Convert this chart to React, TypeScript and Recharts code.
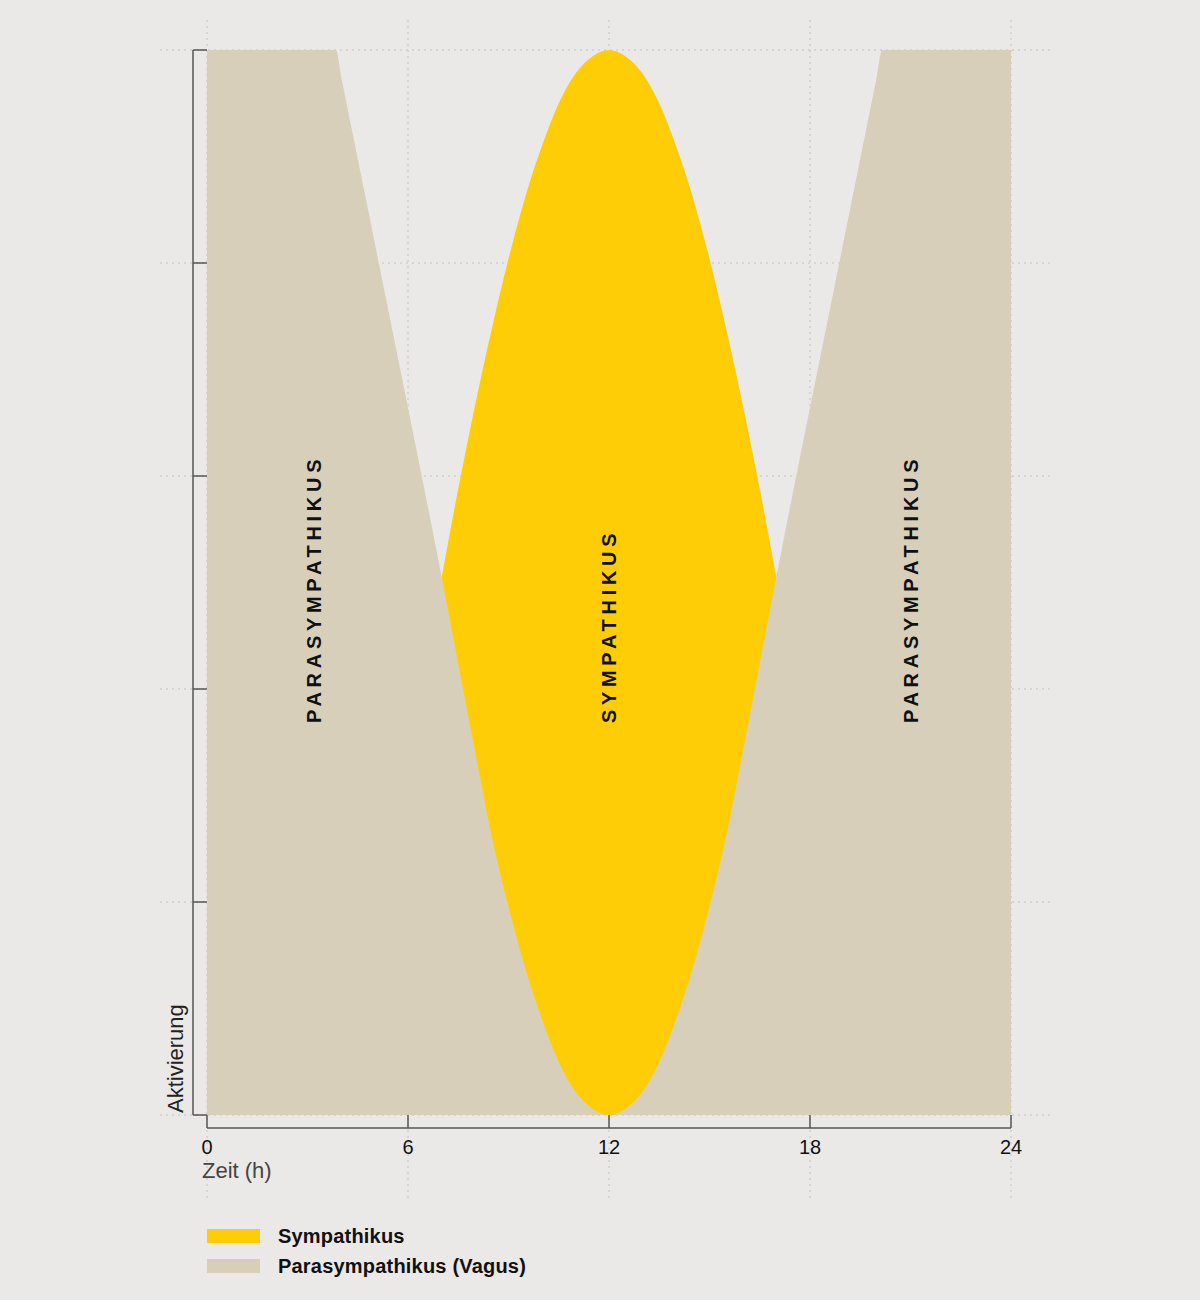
import React from 'react';
import { AreaChart, Area, XAxis, YAxis, CartesianGrid, ReferenceDot } from 'recharts';

const HOURS = [
  0, 0.5, 1, 1.5, 2, 2.5, 3, 3.5, 3.85, 4, 4.5, 5, 5.5, 6, 6.5, 7, 7.5, 8, 8.5, 9, 9.5, 10, 10.5, 11, 11.5,
  12, 12.5, 13, 13.5, 14, 14.5, 15, 15.5, 16, 16.5, 17, 17.5, 18, 18.5, 19, 19.5, 20, 20.15, 20.5, 21, 21.5,
  22, 22.5, 23, 23.5, 24,
];

const SYMPATHIKUS = [
  0, 0, 0, 0, 0, 0, 0, 0, 0, 0, 0.38, 0.8, 1.22, 1.66, 2.1, 2.52, 2.94, 3.33, 3.69, 4.02, 4.31, 4.55, 4.75, 4.89, 4.97,
  5, 4.97, 4.89, 4.75, 4.55, 4.31, 4.02, 3.69, 3.33, 2.94, 2.52, 2.1, 1.66, 1.22, 0.8, 0.38, 0, 0, 0, 0, 0,
  0, 0, 0, 0, 0,
];

const PARASYMPATHIKUS = [
  5, 5, 5, 5, 5, 5, 5, 5, 5, 4.88, 4.49, 4.1, 3.71, 3.32, 2.93, 2.53, 2.12, 1.71, 1.31, 0.98, 0.69, 0.45, 0.25, 0.11, 0.03,
  0, 0.03, 0.11, 0.25, 0.45, 0.69, 0.98, 1.31, 1.71, 2.12, 2.53, 2.93, 3.32, 3.71, 4.1, 4.49, 4.88, 5, 5, 5, 5,
  5, 5, 5, 5, 5,
];

const X_TICKS = [0, 6, 12, 18, 24];
const Y_TICKS = [0, 1, 2, 3, 4, 5];

const REGION_LABELS = [
  { t: 3.2, v: 1.84, text: 'PARASYMPATHIKUS' },
  { t: 12, v: 1.84, text: 'SYMPATHIKUS' },
  { t: 21, v: 1.84, text: 'PARASYMPATHIKUS' },
];

const BG = '#ebe9e7';
const YELLOW = '#ffcd05';
const BEIGE = '#d8cfbb';
const AXIS = '#555555';
const FONT = "'Liberation Sans', Arial, sans-serif";

const LEGEND = [
  { label: 'Sympathikus', color: YELLOW },
  { label: 'Parasympathikus (Vagus)', color: BEIGE },
];

const data = HOURS.map((t, i) => ({ t, s: SYMPATHIKUS[i], p: PARASYMPATHIKUS[i] }));

// rotated text, reading bottom to top, centred on cx
function RegionLabel({ cx, cy, text }: any) {
  return (
    <text
      x={cx}
      y={cy}
      dy="0.36em"
      transform={`rotate(-90 ${cx} ${cy})`}
      textAnchor="start"
      fontFamily={FONT}
      fontSize={20}
      fontWeight={700}
      letterSpacing={4.7}
      fill="#111"
    >
      {text}
    </text>
  );
}

function YTitle(props: any) {
  const vb = props.viewBox || { x: 147, y: 50, width: 60, height: 1065 };
  const x = vb.x + vb.width - 10;
  const y = vb.y + vb.height - 2;
  return (
    <text x={x} y={y} transform={`rotate(-90 ${x} ${y})`} textAnchor="start" fontFamily={FONT} fontSize={22} fill="#222">
      Aktivierung
    </text>
  );
}

function XTitle(props: any) {
  const vb = props.viewBox || { x: 207, y: 1115 };
  return (
    <text x={vb.x - 5} y={vb.y + 50} textAnchor="start" fontFamily={FONT} fontSize={22} fill="#444">
      Zeit (h)
    </text>
  );
}

// y axis has tick marks but no numbers
const NoLabel = () => <g />;

export default function App() {
  return (
    <div style={{ position: 'absolute', left: 0, top: 0, width: 1200, height: 1300, background: BG, fontFamily: FONT }}>
      {/* offset axes: y axis 14px left of the plot, x axis 13px below */}
      <style>{`.recharts-yAxis{transform:translateX(-14px)}.recharts-xAxis{transform:translateY(13px)}`}</style>
      <AreaChart width={1200} height={1300} data={data} margin={{ top: 50, right: 189, bottom: 125, left: 147 }}>
        <CartesianGrid x={160} y={20} width={890} height={1180} stroke="#c2c2c2" strokeDasharray="2 4" />
        <Area
          dataKey="s"
          type="monotone"
          stroke="none"
          fill={YELLOW}
          fillOpacity={1}
          dot={false}
          activeDot={false}
          isAnimationActive={false}
        />
        <Area
          dataKey="p"
          type="monotone"
          stroke="none"
          fill={BEIGE}
          fillOpacity={1}
          dot={false}
          activeDot={false}
          isAnimationActive={false}
        />
        <XAxis
          dataKey="t"
          type="number"
          domain={[0, 24]}
          ticks={X_TICKS}
          height={60}
          tickSize={-13}
          tickMargin={38}
          axisLine={{ stroke: AXIS, strokeWidth: 1.5 }}
          tickLine={{ stroke: AXIS, strokeWidth: 1.5 }}
          tick={{ fontSize: 20, fill: '#111', fontFamily: FONT }}
          label={XTitle}
        />
        <YAxis
          type="number"
          domain={[0, 5]}
          ticks={Y_TICKS}
          width={60}
          tickSize={-14}
          tick={NoLabel}
          axisLine={{ stroke: AXIS, strokeWidth: 1.5 }}
          tickLine={{ stroke: AXIS, strokeWidth: 1.5 }}
          label={YTitle}
        />
        {REGION_LABELS.map((l) => (
          <ReferenceDot
            key={l.t}
            x={l.t}
            y={l.v}
            r={0}
            shape={(p: any) => <RegionLabel cx={p.cx} cy={p.cy} text={l.text} />}
          />
        ))}
      </AreaChart>
      <div style={{ position: 'absolute', left: 207, top: 1229 }}>
        {LEGEND.map((item) => (
          <div key={item.label} style={{ display: 'flex', alignItems: 'center', height: 14, marginBottom: 16 }}>
            <span style={{ width: 53, height: 14, background: item.color, display: 'inline-block' }} />
            <span style={{ marginLeft: 18, fontSize: 20, fontWeight: 700, letterSpacing: 0.2, lineHeight: '14px', color: '#111' }}>
              {item.label}
            </span>
          </div>
        ))}
      </div>
    </div>
  );
}
